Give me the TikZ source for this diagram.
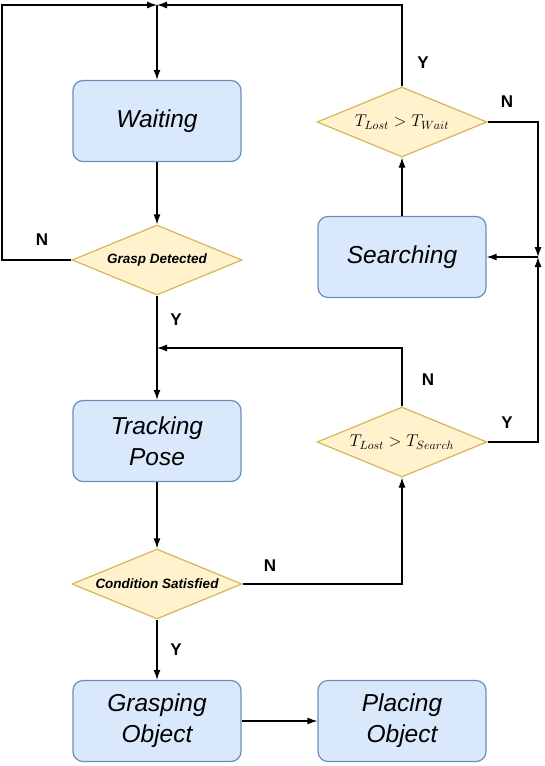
\documentclass[tikz,border=0pt]{standalone}
\usepackage{fix-cm}
\usepackage{fontspec}
\setsansfont{Liberation Sans}
\usetikzlibrary{shapes.geometric,arrows.meta}
\definecolor{statoFill}{HTML}{DAE8FC}
\definecolor{statoBordo}{HTML}{6C8EBF}
\definecolor{sceltaFill}{HTML}{FFF2CC}
\definecolor{sceltaBordo}{HTML}{D6B656}
\begin{document}
\begin{tikzpicture}[x=1pt,y=-1pt,>={Latex[length=10pt,width=7pt]},
	stato/.style={draw=statoBordo, fill=statoFill, line width=1.2pt, rounded corners=10pt,
		minimum width=168pt, minimum height=81pt, align=center,
		font=\sffamily\itshape\fontsize{24.5}{31}\selectfont},
	scelta/.style={diamond, aspect=2.43, draw=sceltaBordo, fill=sceltaFill, line width=1.2pt,
		inner sep=0pt, minimum width=170pt, minimum height=70pt,
		font=\sffamily\bfseries\itshape\fontsize{13.5}{16}\selectfont},
	sceltamat/.style={scelta, font=\fontsize{17}{20}\selectfont},
	freccia/.style={black, line width=1.2pt},
	etichetta/.style={font=\sffamily\bfseries\fontsize{17}{20}\selectfont},
	]
	\useasboundingbox (0,0) rectangle (544,766);
	% ── Colonne ──
	\def\xa{157}      % colonna sinistra
	\def\xb{402}      % colonna destra
	
	% ===================== stati e decisioni =====================
	\node[stato]  (waiting)   at (\xa,121) {Waiting};
	\node[scelta] (grasp)     at (\xa,260) {Grasp Detected};
	\node[stato]  (tracking)  at (\xa,441) {Tracking\\Pose};
	\node[scelta] (cond)      at (\xa,584) {Condition Satisfied};
	\node[stato]  (grasping)  at (\xa,721) {Grasping\\Object};
	\node[stato]  (placing)   at (\xb,721) {Placing\\Object};
	\node[stato]  (searching) at (\xb,257) {Searching};
	\node[sceltamat] (twait)   at (\xb,122) {$T_{Lost} > T_{Wait}$};
	\node[sceltamat] (tsearch) at (\xb,442) {$T_{Lost} > T_{Search}$};
	
	% ── Punti di raccordo ──
	\coordinate (sopra)    at (\xa,5);
	\coordinate (angolo)   at (2,5);
	\coordinate (destra)   at (538,257);
	\coordinate (sinistra) at (\xa,348);
	
	% ===================== collegamenti =====================
	\draw[->, freccia] (grasp.west) -| (angolo) -- (sopra);
	\draw[->, freccia] (twait.north) |- (sopra);
	\draw[->, freccia] (sopra) -- (waiting.north);
	\draw[->, freccia] (waiting) -- (grasp);
	\draw[->, freccia] (grasp) -- (tracking);
	\draw[->, freccia] (tsearch.north) |- (sinistra);
	\draw[->, freccia] (tracking) -- (cond);
	\draw[->, freccia] (cond.east) -| (tsearch.south);
	\draw[->, freccia] (cond) -- (grasping);
	\draw[->, freccia] (grasping) -- (placing);
	\draw[->, freccia] (tsearch.east) -| (destra);
	\draw[->, freccia] (twait.east) -| (destra);
	\draw[->, freccia] (destra) -- (searching.east);
	\draw[->, freccia] (searching) -- (twait);
	
	% ── Etichette Y/N ──
	\node[etichetta] (nGrasp)  at (42,240)  {N};
	\node[etichetta] (yGrasp)  at (176,320) {Y};
	\node[etichetta] (yWait)   at (423,63)  {Y};
	\node[etichetta] (nWait)   at (507,102) {N};
	\node[etichetta] (nSearch) at (428,380) {N};
	\node[etichetta] (ySearch) at (507,423) {Y};
	\node[etichetta] (nCond)   at (270,566) {N};
	\node[etichetta] (yCond)   at (176,650) {Y};
\end{tikzpicture}
\end{document}
